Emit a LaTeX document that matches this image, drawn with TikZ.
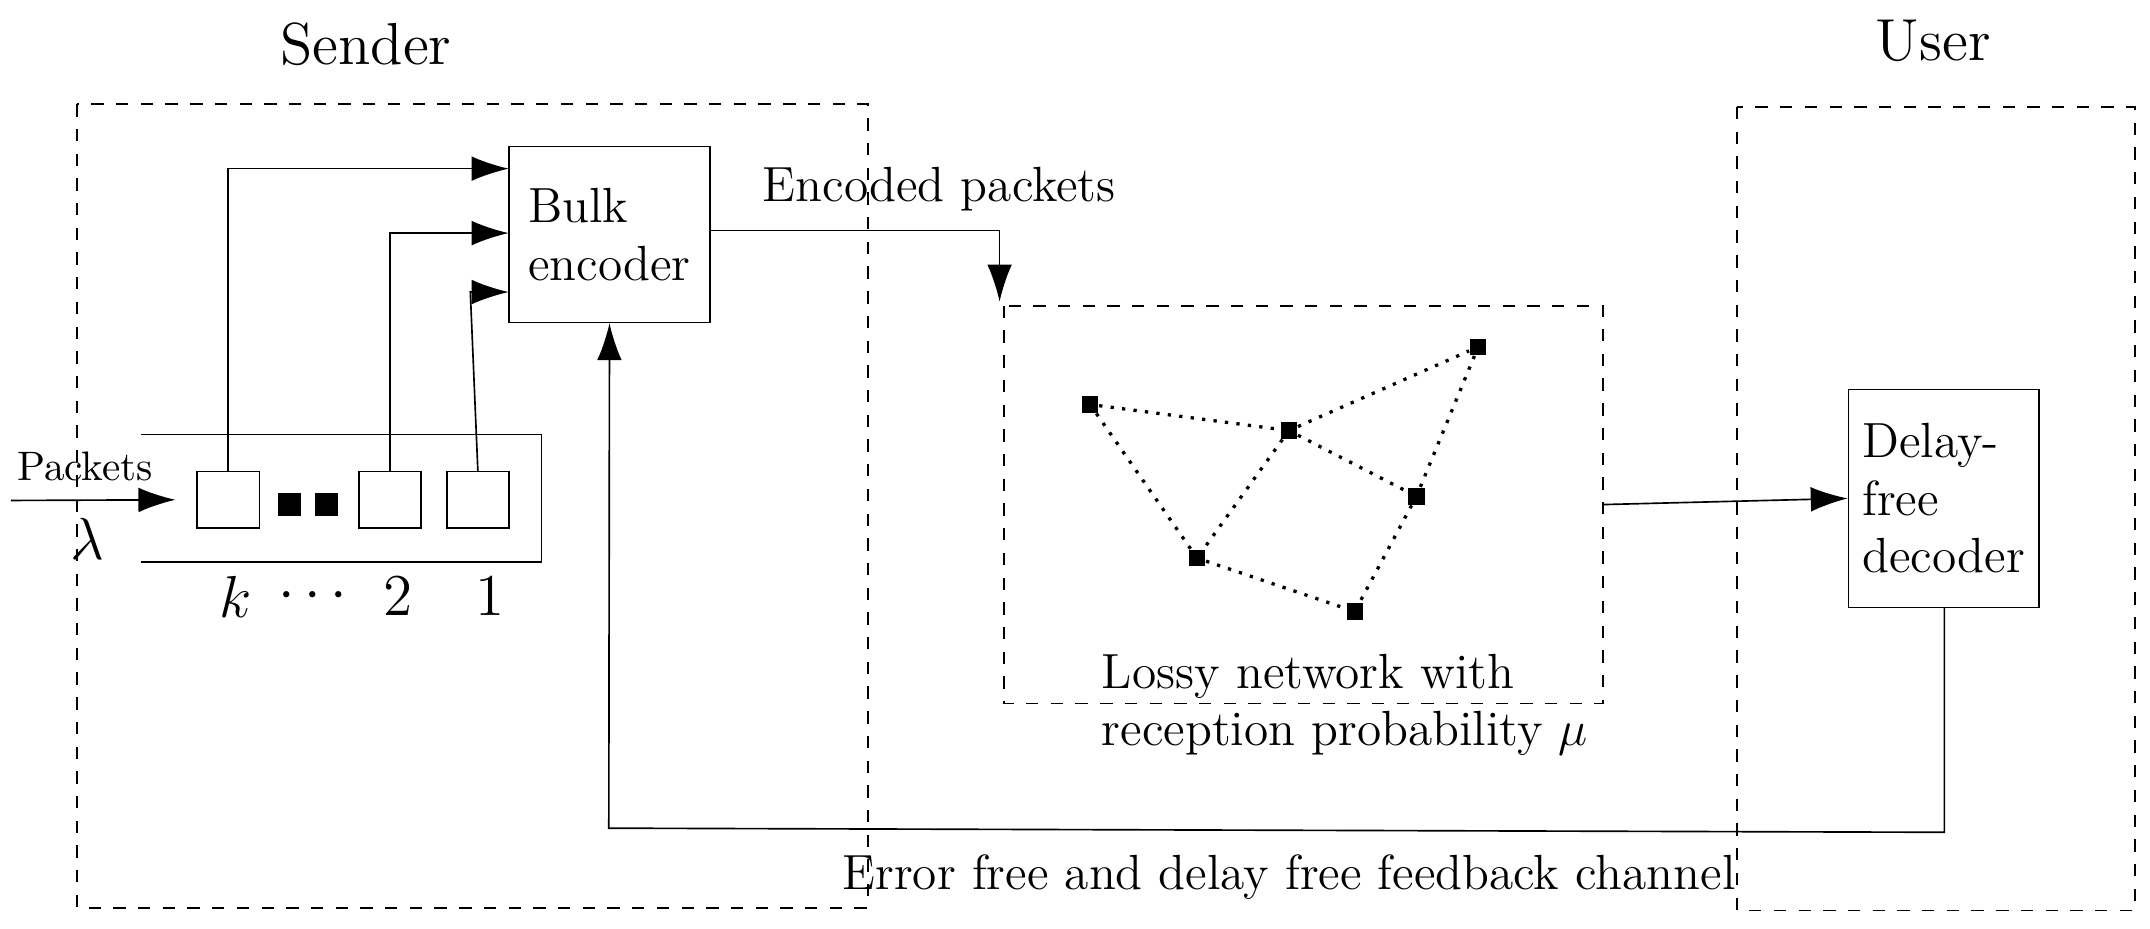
\documentclass[tikz,border=0pt]{standalone}
\usetikzlibrary{arrows.meta}
\begin{document}
\begin{tikzpicture}[x=0.0117cm,y=-0.0117cm,
  dbox/.style={draw,dashed},
  arr/.style={-{Latex[length=9pt,width=6pt]}},
  dot/.style={fill,inner sep=0pt,minimum size=4pt},
  edge/.style={dotted,thick},
  sq/.style={draw,minimum width=0.53cm,minimum height=0.48cm,inner sep=0pt}]
\useasboundingbox (0,0) rectangle (1568,677);
\node (snd) at (267,32) {\Large Sender};
\node (usr) at (1410,30) {\Large User};
\draw[dbox] (56,76) rectangle (633,662);
\draw[dbox] (1267,78) rectangle (1557,664);
\node[draw,minimum width=1.72cm,minimum height=1.5cm,align=left,font=\large] (enc) at (444.5,171) {Bulk\\encoder};
% queue
\draw (103,317) -- (395,317) -- (395,410) -- (103,410);
\node[sq] (q3) at (166.5,364.5) {};
\node[sq] (q2) at (284.5,364.5) {};
\node[sq] (q1) at (348.5,364.5) {};
\node[fill,inner sep=0pt,minimum size=5.5pt] (d1) at (211,368) {};
\node[fill,inner sep=0pt,minimum size=5.5pt] (d2) at (238,368) {};
\node (lk) at (172,435) {\Large $k$};
\node (ld) at (228,435) {\Large $\cdots$};
\node (l2) at (290,435) {\Large $2$};
\node (l1) at (357,435) {\Large $1$};
\coordinate (pin) at (8,365);
\draw[arr] (pin) -- (q3.west -| 128,0) coordinate (pe);
\node (pk) at (62,340) {Packets};
\node (lam) at (64,393) {\Large $\lambda$};
\draw[arr] (q3.north) |- (371,123);
\draw[arr] (q2.north) |- (371,170);
\draw[arr] (q1.north) -- (343,213) -- (371,213);
% network
\draw[dbox] (732,223) rectangle (1169,513);
\node[dot] (A) at (795,295) {};
\node[dot] (B) at (940,314) {};
\node[dot] (C) at (1078,253) {};
\node[dot] (D) at (1033,362) {};
\node[dot] (E) at (873,407) {};
\node[dot] (F) at (988,446) {};
\draw[edge] (A)--(B) (B)--(C) (A)--(E) (B)--(E) (B)--(D) (C)--(D) (D)--(F) (E)--(F);
\node[align=left,anchor=west,font=\large] (ln) at (793,514) {Lossy network with\\reception probability $\mu$};
\draw[arr] (518,168) -- (729,168) -- (729,220);
\node[font=\large] (ep) at (685,138) {Encoded packets};
\node[draw,minimum width=1.42cm,minimum height=1.86cm,align=left,font=\large] (dec) at (1417.5,363.5) {Delay-\\free\\decoder};
\draw[arr] (1169,368) -- (dec.west);
\draw[arr] (1418,443) -- (1418,607) -- (444,604) -- (enc.south);
\node[font=\large] (fb) at (940,640) {Error free and delay free feedback channel};
\end{tikzpicture}
\end{document}
